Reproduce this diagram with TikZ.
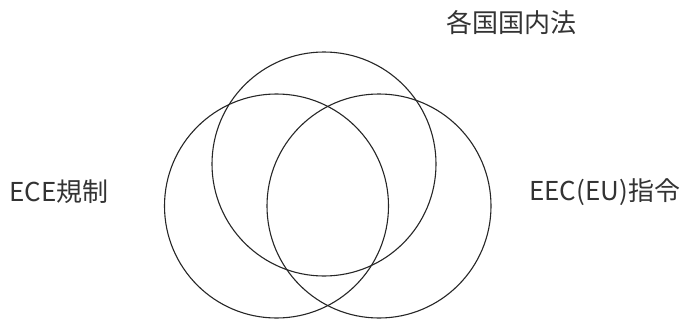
\documentclass[tikz,border=0pt]{standalone}
\usepackage{fontspec}
\setmainfont{Noto Sans CJK JP}
\begin{document}
\begin{tikzpicture}[x=1pt,y=-1pt,
  ring/.style={circle,draw=black!85,line width=1.1pt,minimum size=224pt,inner sep=0pt},
  lbl/.style={font=\fontsize{26}{28}\selectfont,text=black!80,inner sep=0pt,anchor=west}]
\useasboundingbox (0,0) rectangle (685,321);
\node[ring] (top) at (324,164) {};
\node[ring] (left) at (276.5,206) {};
\node[ring] (right) at (379,206) {};
\node[lbl] (nat) at (446,23) {各国国内法};
\node[lbl] (ece) at (9,192) {ECE規制};
\node[lbl] (eec) at (529,192) {EEC(EU)指令};
\end{tikzpicture}
\end{document}
